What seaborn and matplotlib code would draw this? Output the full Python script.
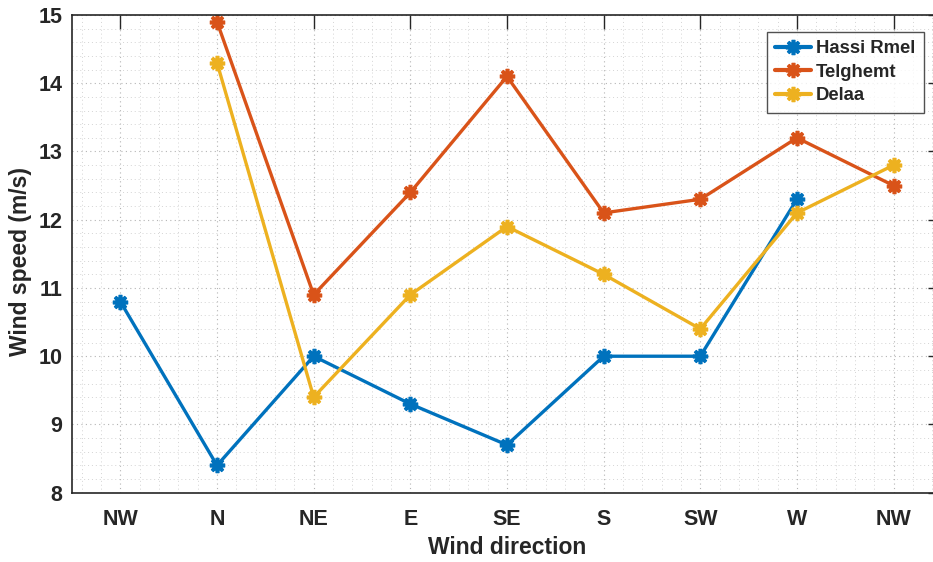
import numpy as np
import pandas as pd
import matplotlib
matplotlib.use("Agg")
import matplotlib.pyplot as plt
import seaborn as sns
from matplotlib.ticker import MultipleLocator

# Wind direction categories (compass sectors, closing back on NW)
directions = ["NW", "N", "NE", "E", "SE", "S", "SW", "W", "NW"]

# Mean wind speed per direction (m/s); NaN where a station has no value
hassi_rmel = [10.8, 8.4, 10.0, 9.3, 8.7, 10.0, 10.0, 12.3, np.nan]
telghemt = [np.nan, 14.9, 10.9, 12.4, 14.1, 12.1, 12.3, 13.2, 12.5]
delaa = [np.nan, 14.3, 9.4, 10.9, 11.9, 11.2, 10.4, 12.1, 12.8]

station_names = ["Hassi Rmel", "Telghemt", "Delaa"]
station_colors = ["#0072BD", "#D95319", "#EDB120"]

positions = np.arange(1, len(directions) + 1)
frames = []
for name, vals in zip(station_names, [hassi_rmel, telghemt, delaa]):
    frames.append(pd.DataFrame({"pos": positions, "speed": vals, "station": name}))
df = pd.concat(frames, ignore_index=True).dropna()

sns.set_style("white")
plt.rcParams["font.family"] = ["Liberation Sans", "DejaVu Sans"]
plt.rcParams["font.weight"] = "bold"

fig = plt.figure(figsize=(9.33, 5.62), dpi=100)
ax = fig.add_axes([0.0772, 0.1233, 0.9324, 0.8500])

for name, color in zip(station_names, station_colors):
    sub = df[df["station"] == name]
    sns.lineplot(data=sub, x="pos", y="speed", ax=ax, color=color,
                 linewidth=2.4, marker=(8, 2, 0), markersize=11,
                 markeredgewidth=2.6, markeredgecolor=color,
                 label=name, sort=False)

ax.set_xlim(0.5, 9.5)
ax.set_ylim(8, 15)
ax.set_xticks(positions)
ax.set_xticklabels(directions)
ax.set_yticks(np.arange(8, 16, 1))
ax.xaxis.set_minor_locator(MultipleLocator(0.2))
ax.yaxis.set_minor_locator(MultipleLocator(0.2))

ax.grid(which="major", linestyle=(0, (1, 3)), color="#b4b4b4", linewidth=0.8)
ax.grid(which="minor", linestyle=(0, (1, 3)), color="#d4d4d4", linewidth=0.7)
ax.set_axisbelow(True)

ax.tick_params(which="major", direction="in", length=10, width=1.0,
               color="#262626", labelsize=15.5, top=True, right=True)
ax.tick_params(axis="x", pad=12)
ax.tick_params(axis="y", pad=7)
ax.tick_params(which="minor", length=0)
for lab in ax.get_xticklabels() + ax.get_yticklabels():
    lab.set_fontweight("bold")
    lab.set_color("#262626")

for side in ["left", "bottom", "top", "right"]:
    ax.spines[side].set_visible(True)
    ax.spines[side].set_color("#262626")
    ax.spines[side].set_linewidth(1.2)

ax.set_xlabel("Wind direction", fontsize=16.5, fontweight="bold", color="#262626", labelpad=4)
ax.set_ylabel("Wind speed (m/s)", fontsize=16.5, fontweight="bold", color="#262626")
ax.yaxis.set_label_coords(-0.046, 0.485)

leg = ax.legend(loc="upper left", bbox_to_anchor=(0.799, 0.9644), fontsize=13.3,
                frameon=True, fancybox=False, handlelength=1.9, handletextpad=0.3,
                borderpad=0.45, labelspacing=0.35, borderaxespad=0)
leg.get_frame().set_edgecolor("#262626")
leg.get_frame().set_linewidth(1.0)
for t in leg.get_texts():
    t.set_fontweight("bold")
for h in leg.get_lines():
    h.set_linewidth(3.0)

fig.savefig("out.png", dpi=100)
